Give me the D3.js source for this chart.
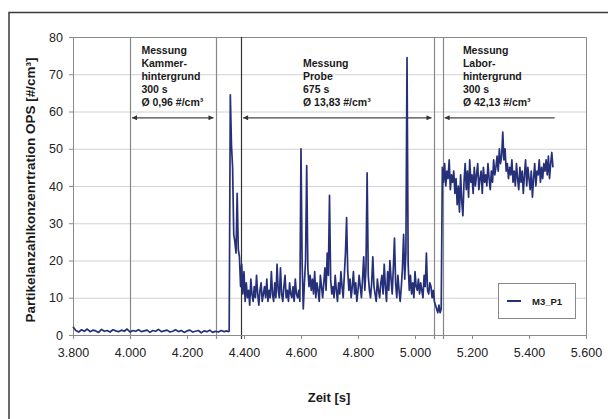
<!DOCTYPE html>
<meta charset="utf-8">
<style>
    body { margin: 0; background: #fff; }
    text { font-family: Arial, "Liberation Sans", sans-serif; }
    .grid line { stroke: #d2d2d2; }
    .axis path, .axis line { stroke: #8a8a8a; }
    .axis text { font-size: 12.5px; fill: #222; }
    .note { font-size: 10.5px; font-weight: bold; fill: #1a1a1a; }
</style>
<svg width="608" height="419"></svg>
<script src="https://cdn.jsdelivr.net/npm/d3@7"></script>
<script>
    // sample values (time in s, concentration in #/cm3)
    var kammerStart = 3800, kammerStep = 10;
    var kammerVals = [
        2.2, 1.2, 0.8, 1.4, 1.0, 1.6, 0.9, 1.3, 1.1, 0.7,
        1.5, 1.0, 1.2, 0.8, 1.4, 1.1, 0.9, 1.3, 1.0, 1.6,
        0.8, 1.2, 1.0, 1.4, 0.9, 1.1, 1.3, 0.7, 1.2, 1.0,
        1.5, 0.9, 1.1, 1.3, 0.8, 1.0, 1.4, 0.9, 1.2, 0.7,
        1.1, 1.3, 0.8, 1.0, 1.2, 0.6, 1.1, 0.9, 1.3, 0.7,
        1.0, 0.8, 1.2, 0.9, 1.1
    ];

    var probeStart = 4344, probeStep = 4;
    var probeVals = [
        0.9, 1.0,
        64.5, 51, 45, 27, 25, 22, 38, 23, 21, 13, 19, 11, 17, 9,
        14, 10, 12, 8, 15, 11, 9, 13, 10, 16,
        11, 8, 12, 14, 9, 11, 13, 10, 15, 9,
        12, 10, 17, 11, 9, 14, 10, 19, 12, 10,
        18, 11, 9, 13, 16, 10, 12, 9, 14, 11,
        10, 13, 9, 15, 11, 10, 12, 9,
        50, 19, 7, 14, 20, 45.5, 18, 13, 16, 12,
        15, 11, 17, 10, 14, 12, 9, 16, 13, 10,
        14, 18, 12, 22, 16,
        37.5,
        15, 11, 13, 10, 16, 12, 9, 14,
        11, 17, 13, 10, 16, 22, 31.5, 17,
        12, 15, 10, 13, 17, 11, 14, 9, 12, 16,
        13, 10, 15, 21, 12, 18,
        43.5,
        16, 12, 10, 14, 21, 13, 11, 9, 15, 12,
        10, 14, 16, 11, 19, 13, 9, 17, 12, 20,
        15, 11, 18, 26, 14, 10, 16, 12, 9, 13,
        18, 27, 15, 22,
        74.5, 19,
        12, 16, 11, 14, 10, 17, 13, 12, 15, 11,
        14, 12, 10, 16, 13, 22, 12, 11, 14, 13,
        10, 12, 9, 8, 7, 6, 8, 6, 7
    ];

    var laborStart = 5096, laborStep = 4;
    var laborVals = [
        45, 41, 46, 40, 44, 42, 47, 39, 43, 41,
        44, 38, 42, 35, 40, 33, 43, 36, 32, 41,
        46, 39, 44, 37, 47, 41, 43, 38, 45, 40,
        43, 46, 39, 42, 44, 38, 45, 41, 43, 40,
        46, 42, 39, 44, 41, 47, 43, 45, 48, 44,
        50, 46, 48, 54.5, 47, 50, 44, 46, 42, 45,
        43, 47, 41, 44, 40, 46, 42, 39, 45, 41,
        44, 38, 43, 47, 40, 45, 42, 39, 44, 37,
        42, 46, 40, 44, 43, 47, 41, 45, 42, 46,
        44, 47, 43, 48, 42, 46, 49, 45
    ];

    var xTicks = [3800, 4000, 4200, 4400, 4600, 4800, 5000, 5200, 5400, 5600];
    var yTicks = [0, 10, 20, 30, 40, 50, 60, 70, 80];

    // phase boundaries and their labels
    var phaseLines = [4000, 4300, 4390, 5065, 5097];
    var phases = [
        {from: 4000, to: 4300, open: false, lines: ["Messung", "Kammer-", "hintergrund", "300 s", "Ø 0,96 #/cm³"], textAt: 4040},
        {from: 4390, to: 5065, open: false, lines: ["Messung", "Probe", "675 s", "Ø 13,83 #/cm³"], textAt: 4607},
        {from: 5097, to: 5490, open: true, lines: ["Messung", "Labor-", "hintergrund", "300 s", "Ø 42,13 #/cm³"], textAt: 5168}
    ];
    var arrowLevel = 58.3;

    function series(start, step, vals) {
        return vals.map(function(v, i) { return {t: start + i * step, v: v}; });
    }
    var data = series(kammerStart, kammerStep, kammerVals)
        .concat(series(probeStart, probeStep, probeVals))
        .concat(series(laborStart, laborStep, laborVals));

    var svg = d3.select("svg"),
        margin = {top: 37, right: 22, bottom: 84, left: 73},
        width = +svg.attr("width") - margin.left - margin.right,
        height = +svg.attr("height") - margin.top - margin.bottom;

    var de = d3.formatLocale({decimal: ",", thousands: ".", grouping: [3], currency: ["", " €"]});

    var x = d3.scaleLinear().domain([3800, 5600]).range([0, width]);
    var y = d3.scaleLinear().domain([0, 80]).range([height, 0]);

    // outer frame
    svg.append("rect")
        .attr("x", 9).attr("y", 12.5)
        .attr("width", 620).attr("height", 430)
        .attr("fill", "none").attr("stroke", "#3a3a3a").attr("stroke-width", 1.5);

    var defs = svg.append("defs");
    defs.append("marker")
        .attr("id", "head")
        .attr("viewBox", "0 0 10 10")
        .attr("refX", 10).attr("refY", 5)
        .attr("markerWidth", 6).attr("markerHeight", 5)
        .attr("markerUnits", "userSpaceOnUse")
        .attr("orient", "auto-start-reverse")
        .append("path").attr("d", "M0,0L10,5L0,10z").attr("fill", "#333");

    var g = svg.append("g").attr("transform", "translate(" + margin.left + "," + margin.top + ")");

    g.append("g").attr("class", "grid")
        .selectAll("line")
        .data(yTicks.filter(function(d) { return d > 0 && d < 80; }))
        .enter().append("line")
        .attr("x1", 0).attr("x2", width)
        .attr("y1", function(d) { return y(d) + 0.5; })
        .attr("y2", function(d) { return y(d) + 0.5; });

    // plot frame top / right
    g.append("path")
        .attr("d", "M0," + (y(80) + 0.5) + "H" + (width + 0.5) + "V" + y(0))
        .attr("fill", "none").attr("stroke", "#8a8a8a");

    g.append("g").attr("class", "vlines")
        .selectAll("line")
        .data(phaseLines)
        .enter().append("line")
        .attr("x1", function(d) { return Math.round(x(d)) + 0.5; })
        .attr("x2", function(d) { return Math.round(x(d)) + 0.5; })
        .attr("y1", y(80)).attr("y2", y(0) + 4)
        .attr("stroke", function(d) { return d === 4390 ? "#333" : "#888"; })
        .attr("stroke-width", 1.2);

    g.append("g").attr("class", "axis")
        .attr("transform", "translate(0," + height + ")")
        .call(d3.axisBottom(x).tickValues(xTicks).tickSize(4).tickPadding(9).tickFormat(de.format(",.0f")));

    g.append("g").attr("class", "axis")
        .call(d3.axisLeft(y).tickValues(yTicks).tickSize(4).tickPadding(6));

    var arrows = g.append("g");
    phases.forEach(function(p) {
        var ay = y(arrowLevel);
        arrows.append("line")
            .attr("x1", x(p.from) + 2).attr("x2", x(p.to) - (p.open ? 0 : 2))
            .attr("y1", ay).attr("y2", ay)
            .attr("stroke", "#444").attr("stroke-width", 1.1)
            .attr("marker-start", "url(#head)")
            .attr("marker-end", p.open ? null : "url(#head)");

        var t = g.append("text").attr("class", "note")
            .attr("x", x(p.textAt))
            .attr("y", y(80) + 16.5 + (5 - p.lines.length) * 13.2);
        p.lines.forEach(function(s, i) {
            t.append("tspan").attr("x", x(p.textAt)).attr("dy", i ? 13.2 : 0).text(s);
        });
    });

    var line = d3.line()
        .x(function(d) { return x(d.t); })
        .y(function(d) { return y(d.v); });

    g.append("path")
        .datum(data)
        .attr("fill", "none")
        .attr("stroke", "#253078")
        .attr("stroke-width", 1.7)
        .attr("stroke-linejoin", "round")
        .attr("d", line);

    // legend
    var lg = g.append("g").attr("transform", "translate(" + (498 - margin.left) + "," + (283 - margin.top) + ")");
    lg.append("rect").attr("x", 0.5).attr("y", 0.5).attr("width", 77).attr("height", 35)
        .attr("fill", "#fff").attr("stroke", "#888");
    lg.append("line").attr("x1", 9).attr("x2", 23).attr("y1", 18).attr("y2", 18)
        .attr("stroke", "#253078").attr("stroke-width", 2);
    lg.append("text").attr("x", 34).attr("y", 21.5)
        .style("font-size", "9.5px").style("font-weight", "bold").attr("fill", "#1a1a1a")
        .text("M3_P1");

    svg.append("text")
        .attr("transform", "translate(35," + (margin.top + height / 2 + 4) + ") rotate(-90)")
        .attr("text-anchor", "middle")
        .style("font-size", "13.5px").style("font-weight", "bold").attr("fill", "#1a1a1a")
        .text("Partikelanzahlkonzenrtration OPS [#/cm³]");

    svg.append("text")
        .attr("x", margin.left + width / 2 - 0.5).attr("y", 402)
        .attr("text-anchor", "middle")
        .style("font-size", "13px").style("font-weight", "bold").attr("fill", "#1a1a1a")
        .text("Zeit [s]");
</script>
